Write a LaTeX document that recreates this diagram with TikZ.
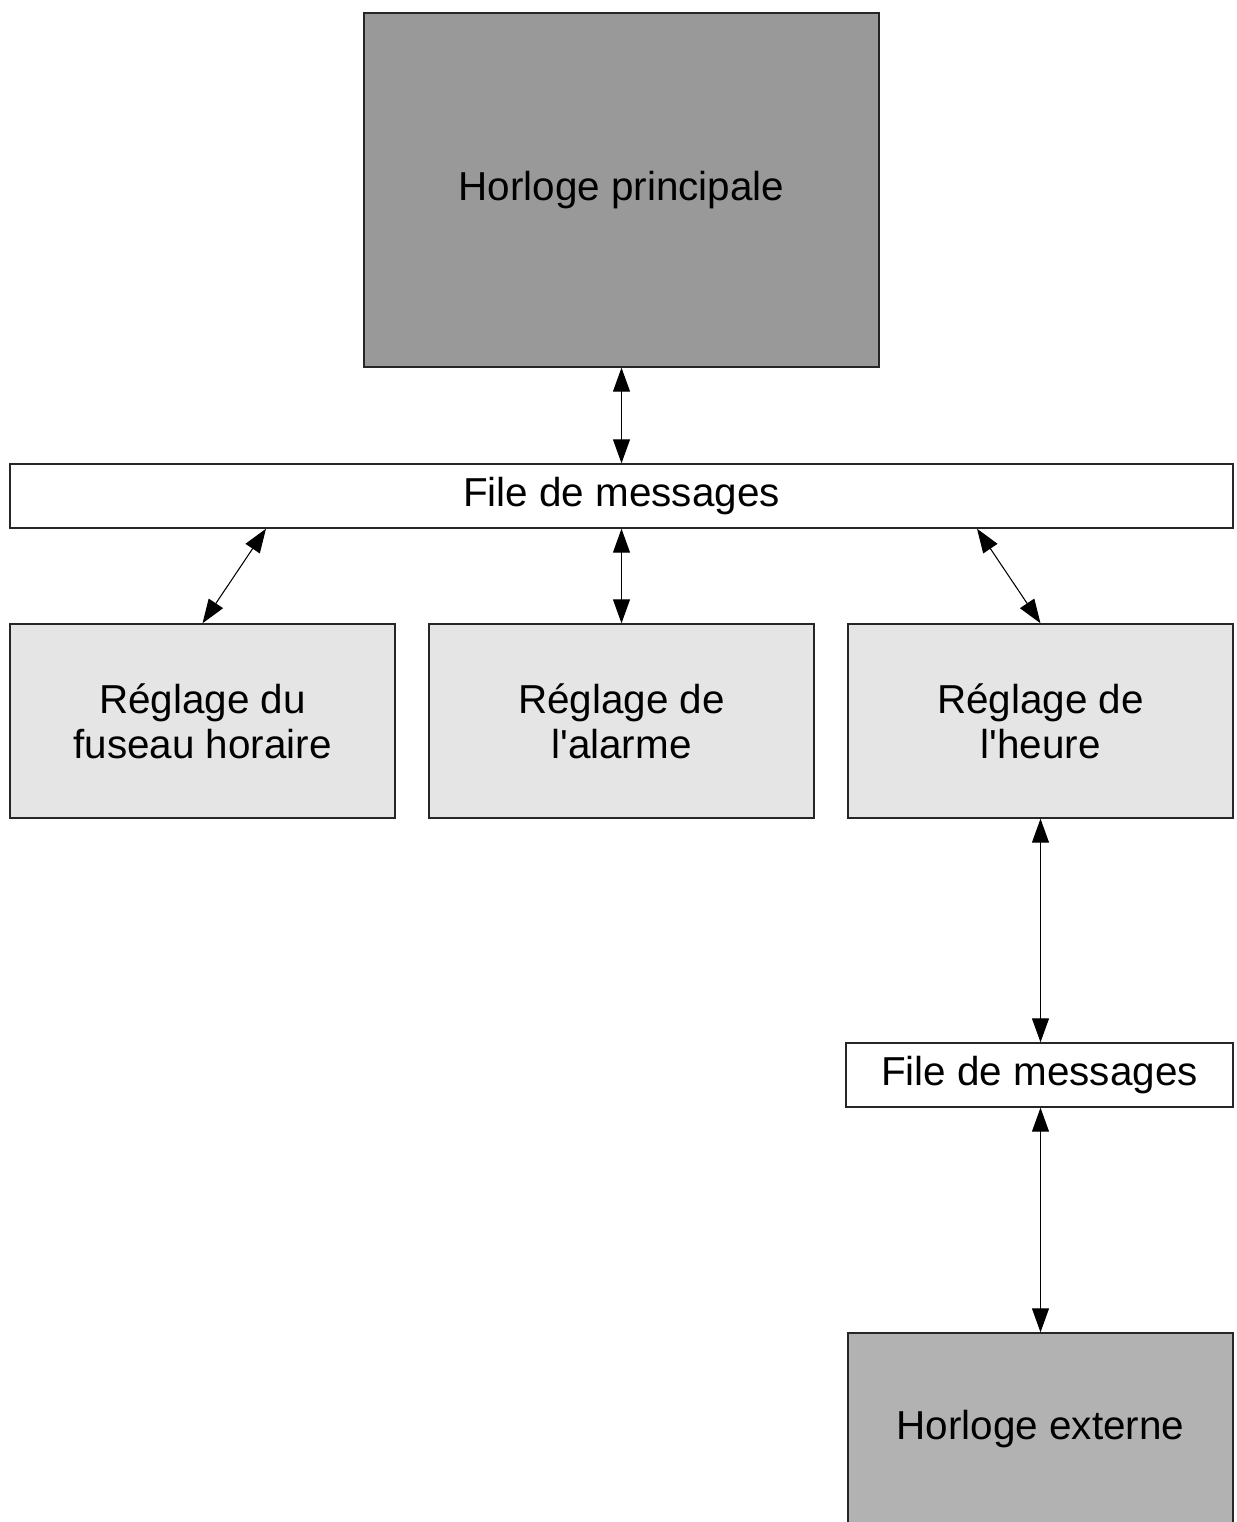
\documentclass[tikz,border=0pt]{standalone}
\usepackage{fontspec}
\setmainfont{Liberation Sans}
\usetikzlibrary{arrows.meta}

\begin{document}
\begin{tikzpicture}[
  font=\fontsize{23}{25.6}\selectfont,
  block/.style={draw=black!85, line width=0.8pt, align=center, inner sep=0pt, anchor=center},
  mainclock/.style={block, fill=mainGray, minimum width=10.30cm, minimum height=7.08cm},
  extclock/.style={block, fill=extGray, minimum width=7.70cm, minimum height=3.86cm},
  setting/.style={block, fill=settingGray, minimum width=7.70cm, minimum height=3.88cm},
  queue/.style={block, fill=white, minimum height=1.28cm},
  link/.style={line width=0.6pt, {Triangle[length=0.48cm,width=0.34cm]}-{Triangle[length=0.48cm,width=0.34cm]}},
]

\definecolor{mainGray}{gray}{0.60}
\definecolor{extGray}{gray}{0.70}
\definecolor{settingGray}{gray}{0.90}

\useasboundingbox (0,0) rectangle (24.74,-30.44);

% Main clock and its message queue.
\node[mainclock] (principale) at (12.43,-3.80) {Horloge principale};
\node[queue, minimum width=24.46cm] (file) at (12.43,-9.92) {File de messages};

% Settings row.
\node[setting] (fuseau) at (4.05,-14.42) {Réglage du\\fuseau horaire};
\node[setting] (alarme) at (12.43,-14.42) {Réglage de\\l\textquotesingle alarme};
\node[setting] (heure) at (20.81,-14.42) {Réglage de\\l\textquotesingle heure};

% External clock side.
\node[queue, minimum width=7.74cm] (fileext) at (20.79,-21.50) {File de messages};
\node[extclock] (externe) at (20.81,-28.59) {Horloge externe};

% Links.
\draw[link] (principale.south) -- (file.north);
\draw[link] ([xshift=1.27cm]file.south -| fuseau.north) -- (fuseau.north);
\draw[link] (file.south -| alarme.north) -- (alarme.north);
\draw[link] ([xshift=-1.27cm]file.south -| heure.north) -- (heure.north);
\draw[link] (heure.south) -- (heure.south |- fileext.north);
\draw[link] (fileext.south -| externe.north) -- (externe.north);

\end{tikzpicture}
\end{document}
